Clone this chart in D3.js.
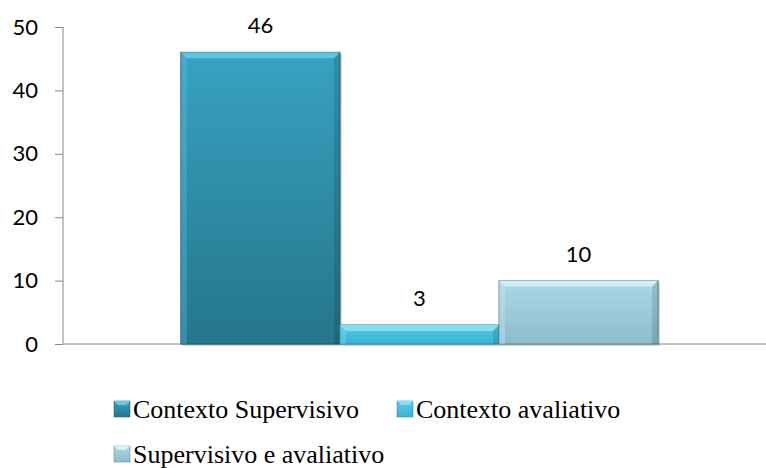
<!DOCTYPE html>
<html><head><meta charset="utf-8">
<script src="https://cdn.jsdelivr.net/npm/d3@7"></script>
<style>body{margin:0;background:#fff}svg{display:block}</style>
</head><body>
<svg id="c" width="766" height="468"></svg>
<script>
const categories = [""];
const seriesNames = ["Contexto Supervisivo", "Contexto avaliativo", "Supervisivo e avaliativo"];
const seriesValues = [46, 3, 10];
const yTicks = [0, 10, 20, 30, 40, 50];

const svg = d3.select("#c");
const y = d3.scaleLinear().domain([0, 50]).range([344, 27]);
const x0 = d3.scaleBand().domain(categories).range([63, 776]).paddingInner(0).paddingOuter(0.247);
const x1 = d3.scaleBand().domain(seriesNames).range([0, x0.bandwidth()]).padding(0);

const defs = svg.append("defs");
const cols = [
  {top:"#38a2c2", bot:"#25768a", edge:"#1b5a6a", hi:"#62cbe6"},
  {top:"#50cbe8", bot:"#3db4d4", edge:"#2a8aa6", hi:"#86e2f6"},
  {top:"#aad8e6", bot:"#8dbccb", edge:"#5f8794", hi:"#d4f1f8"}
];
cols.forEach((c,i)=>{
  const g = defs.append("linearGradient").attr("id","g"+i).attr("x1",0).attr("y1",0).attr("x2",0).attr("y2",1);
  g.append("stop").attr("offset","0%").attr("stop-color",c.top);
  g.append("stop").attr("offset","100%").attr("stop-color",c.bot);
});

const sansFont = '"Lato"';
const serifFont = '"Liberation Serif"';
const yAxis = d3.axisLeft(y).tickValues(yTicks).tickSize(8).tickPadding(17);
const ag = svg.append("g").attr("transform","translate(63,0)").call(yAxis);
ag.attr("font-family", null).attr("font-size", null);
ag.select(".domain").attr("stroke","#888").attr("d","M0,27V344");
ag.selectAll(".tick line").attr("stroke","#888");
ag.selectAll(".tick text").style("font-family",sansFont).style("font-size","22px").attr("fill","#000");

svg.append("line").attr("x1",63).attr("x2",766).attr("y1",y(0)).attr("y2",y(0)).attr("stroke","#888");

const bars = svg.append("g");
seriesNames.forEach((s,i)=>{
  const v = seriesValues[i];
  const bx = x0(categories[0]) + x1(s), bw = x1.bandwidth();
  const by = y(v), bh = y(0)-y(v);
  const c = cols[i];
  const g = bars.append("g");
  g.append("rect").attr("x",bx+2).attr("y",by+2).attr("width",bw).attr("height",bh).attr("fill","#000").attr("opacity",0.15);
  g.append("rect").attr("x",bx).attr("y",by).attr("width",bw).attr("height",bh).attr("fill","url(#g"+i+")").attr("stroke",c.edge).attr("stroke-width",1);
  const b = Math.min(6, bh/2);
  g.append("path").attr("d",`M${bx},${by}L${bx+bw},${by}L${bx+bw-b},${by+b}L${bx+b},${by+b}Z`).attr("fill",c.hi).attr("opacity",0.9);
  g.append("path").attr("d",`M${bx},${by}L${bx+b},${by+b}L${bx+b},${by+bh}L${bx},${by+bh}Z`).attr("fill",c.hi).attr("opacity",0.3);
  g.append("path").attr("d",`M${bx+bw},${by}L${bx+bw-b},${by+b}L${bx+bw-b},${by+bh}L${bx+bw},${by+bh}Z`).attr("fill","#000").attr("opacity",0.12);
  g.append("text").attr("x",bx+bw/2).attr("y",by-19).attr("text-anchor","middle")
    .style("font-family",sansFont).style("font-size","22px").attr("fill","#000").text(v);
});

const legPos = [[114,418],[397,418],[114,463]];
const leg = svg.append("g");
seriesNames.forEach((s,i)=>{
  const [lx,ly] = legPos[i];
  const c = cols[i];
  const sq = 16;
  leg.append("rect").attr("x",lx).attr("y",ly-sq-1).attr("width",sq).attr("height",sq).attr("fill","url(#g"+i+")").attr("stroke",c.edge).attr("stroke-width",0.5);
  leg.append("path").attr("d",`M${lx},${ly-sq-1}L${lx+sq},${ly-sq-1}L${lx+sq-4},${ly-sq+3}L${lx+4},${ly-sq+3}Z`).attr("fill",c.hi);
  leg.append("text").attr("x",lx+sq+3).attr("y",ly).attr("fill","#000")
    .style("font-family",serifFont).style("font-size","26px").text(s);
});
</script>
</body></html>
